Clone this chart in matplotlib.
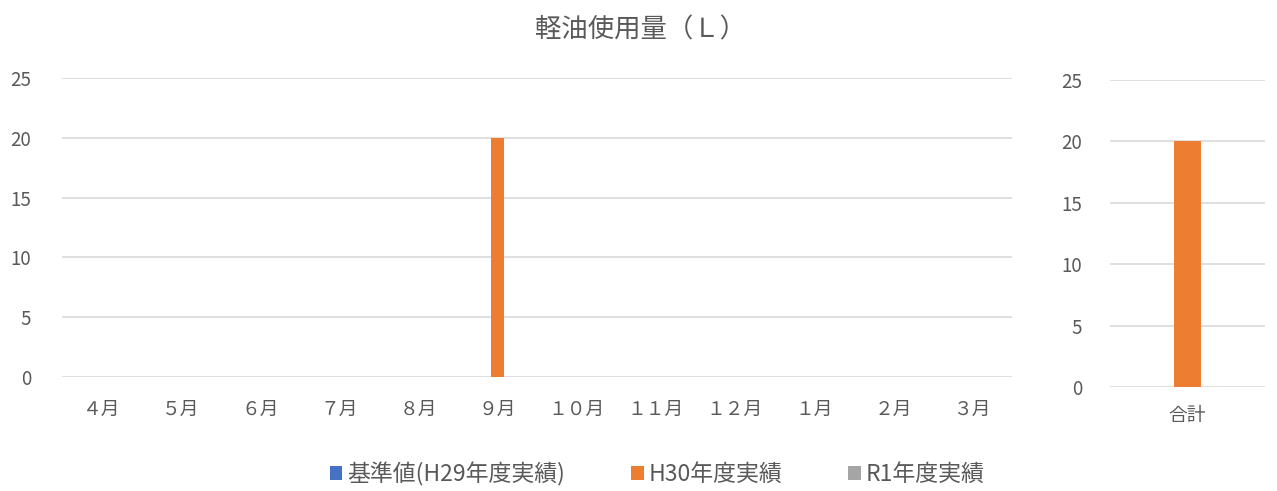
import numpy as np
import matplotlib.pyplot as plt

plt.rcParams['font.family'] = ['Noto Sans CJK JP', 'DejaVu Sans']

# 月別の軽油使用量（Ｌ）
months = ['４月', '５月', '６月', '７月', '８月', '９月',
          '１０月', '１１月', '１２月', '１月', '２月', '３月']
base_h29 = [0, 0, 0, 0, 0, 0, 0, 0, 0, 0, 0, 0]
h30 = [0, 0, 0, 0, 0, 20, 0, 0, 0, 0, 0, 0]
r1 = [0, 0, 0, 0, 0, 0, 0, 0, 0, 0, 0, 0]

total_label = ['合計']
total_base = [sum(base_h29)]
total_h30 = [sum(h30)]
total_r1 = [sum(r1)]

series_names = ['基準値(H29年度実績)', 'H30年度実績', 'R1年度実績']
colors = ['#4472C4', '#ED7D31', '#A5A5A5']
yticks = [0, 5, 10, 15, 20, 25]

text_col = '#595959'
grid_col = '#D9D9D9'

fig = plt.figure(figsize=(12.77, 4.91), dpi=100)
ax = fig.add_axes([62/1277, 0.2322, 950/1277, 0.6090])
ax2 = fig.add_axes([1110/1277, 0.2118, 155/1277, 0.6253])


def style(a, pad_y, pad_x):
    a.set_ylim(0, 25)
    a.set_yticks(yticks)
    a.grid(axis='y', color=grid_col, linewidth=1.2)
    a.set_axisbelow(True)
    for s in a.spines.values():
        s.set_visible(False)
    a.tick_params(axis='both', length=0, colors=text_col, labelsize=13.5)
    a.tick_params(axis='y', pad=pad_y)
    a.tick_params(axis='x', pad=pad_x)


w = 0.165
x = np.arange(len(months))
bars = []
for i, vals in enumerate([base_h29, h30, r1]):
    bars.append(ax.bar(x + (i - 1) * w, vals, w, color=colors[i], label=series_names[i]))
ax.set_xlim(-0.5, len(months) - 0.5)
ax.set_xticks(x)
ax.set_xticklabels(months, fontsize=13)
style(ax, 22, 16)

w2 = 0.18
x2 = np.arange(1)
for i, vals in enumerate([total_base, total_h30, total_r1]):
    ax2.bar(x2 + (i - 1) * w2, vals, w2, color=colors[i])
ax2.set_xlim(-0.5, 0.5)
ax2.set_xticks(x2)
ax2.set_xticklabels(total_label, fontsize=13.5)
style(ax2, 20, 13)

fig.text(641/1277, 1 - 30/491, '軽油使用量（Ｌ）', ha='center', va='center',
         fontsize=19, color=text_col)

fig.legend(handles=bars, labels=series_names, loc='center', ncol=3,
           bbox_to_anchor=(657/1277, 1 - 474/491), frameon=False,
           fontsize=16.5, labelcolor=text_col, handlelength=0.55,
           handleheight=0.55, handletextpad=0.2, columnspacing=2.9)

plt.savefig('out.png', dpi=100)
